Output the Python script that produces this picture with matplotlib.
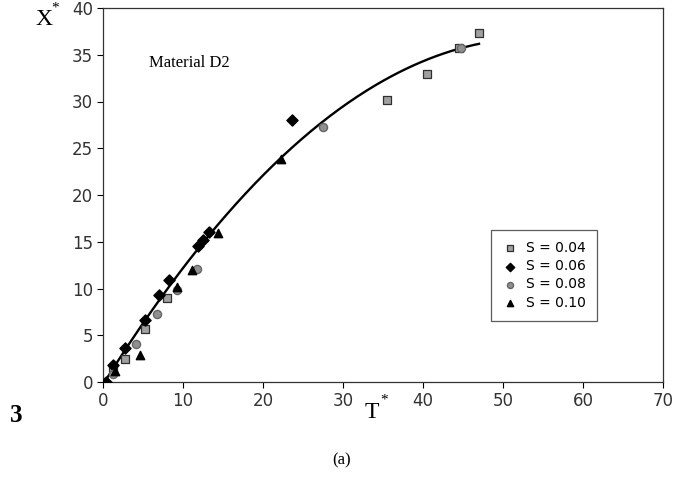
import numpy as np
import matplotlib
matplotlib.use("Agg")
import matplotlib.pyplot as plt

# data
s004_t = [0.0, 1.3, 2.75, 5.3, 7.95, 35.5, 40.5, 44.5, 47.0]
s004_x = [0.0, 1.5, 2.5, 5.7, 8.95, 30.2, 32.9, 35.7, 37.3]

s006_t = [0.4, 1.3, 2.8, 5.25, 7.0, 8.3, 11.9, 12.5, 13.3, 23.6]
s006_x = [0.0, 1.8, 3.6, 6.6, 9.3, 10.9, 14.5, 15.2, 16.0, 28.0]

s008_t = [1.2, 4.1, 6.7, 9.3, 11.8, 27.5, 44.7]
s008_x = [0.9, 4.1, 7.3, 9.8, 12.05, 27.3, 35.7]

s010_t = [1.5, 4.6, 9.2, 11.1, 14.4, 22.2]
s010_x = [1.2, 2.9, 10.2, 12.0, 15.9, 23.9]

# trend curve points
curve_t = [0.5, 5, 10, 15, 20, 25, 30, 35, 40, 47]
curve_x = [0.3, 6.4, 12.2, 17.5, 22.1, 26.1, 29.4, 32.2, 34.3, 36.2]

xticks = [0, 10, 20, 30, 40, 50, 60, 70]
yticks = [0, 5, 10, 15, 20, 25, 30, 35, 40]

fig = plt.figure(figsize=(6.75, 4.93), dpi=100)
ax = fig.add_axes([103/675, 1-382/493, 560/675, 374/493])

# smooth trendline (quadratic through the read points)
coef = np.polyfit(curve_t, curve_x, 2)
tt = np.linspace(curve_t[0], curve_t[-1], 200)
ax.plot(tt, np.polyval(coef, tt), color="black", lw=1.7, zorder=2)

ax.scatter(s004_t, s004_x, marker="s", s=32, facecolor="#a0a0a0", edgecolor="#303030",
           linewidths=0.9, label="S = 0.04", zorder=3)
ax.scatter(s006_t, s006_x, marker="D", s=32, facecolor="black", edgecolor="black",
           label="S = 0.06", zorder=3)
ax.scatter(s008_t, s008_x, marker="o", s=34, facecolor="#909090", edgecolor="#666666",
           label="S = 0.08", zorder=3)
ax.scatter(s010_t, s010_x, marker="^", s=36, facecolor="black", edgecolor="black",
           label="S = 0.10", zorder=3)

ax.set_xlim(0, 70)
ax.set_ylim(0, 40)
ax.set_xticks(xticks)
ax.set_yticks(yticks)
ax.tick_params(direction="out", length=4, width=0.8, labelsize=12,
               labelcolor="#333333", pad=3)
for sp in ax.spines.values():
    sp.set_linewidth(0.9)
    sp.set_color("#333333")

ax.text(5.7, 33.7, "Material D2", family="Liberation Serif", fontsize=12)

leg = ax.legend(loc="upper left", bbox_to_anchor=(388/560, (382-230)/374),
                borderaxespad=0, frameon=True, fancybox=False, edgecolor="#333333",
                prop={"family": "DejaVu Sans", "size": 10}, handletextpad=0.5,
                labelspacing=0.3, borderpad=0.8, handlelength=1.2, markerscale=0.75)
leg.get_frame().set_linewidth(0.9)

fig.text(35/675, 1-25/493, "X", family="Liberation Serif", fontsize=17)
fig.text(51/675, 1-12/493, "*", family="Liberation Serif", fontsize=11)
fig.text(365/675, 1-418/493, "T", family="Liberation Serif", fontsize=17)
fig.text(380/675, 1-404/493, "*", family="Liberation Serif", fontsize=11)
fig.text(10/675, 1-422/493, "3", family="Liberation Serif", fontsize=18, weight="bold")
fig.text(332/675, 1-464/493, "(a)", family="Liberation Serif", fontsize=12)

fig.savefig("out.png", dpi=100)
